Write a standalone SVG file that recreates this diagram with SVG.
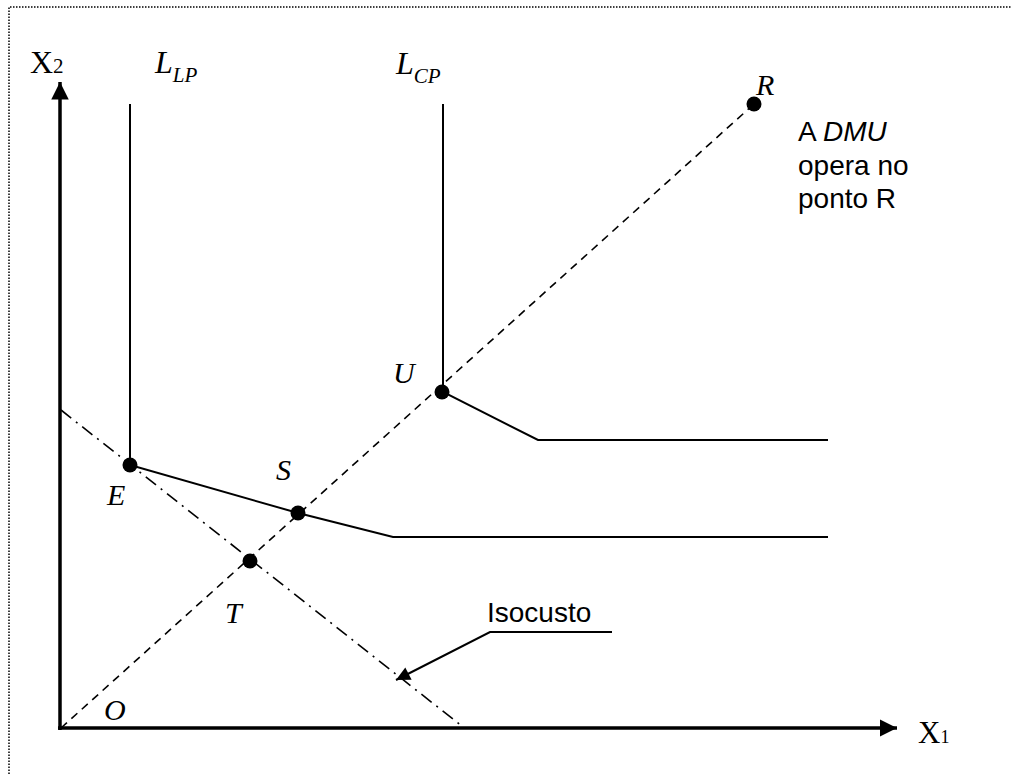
<svg xmlns="http://www.w3.org/2000/svg" width="1011" height="774" viewBox="0 0 1011 774">
<style>
.t{font-family:"Liberation Serif","Times New Roman",serif;fill:#000}
.i{font-style:italic}
.s{font-family:"Liberation Sans",Arial,sans-serif;fill:#000;font-size:28px}
.ln{stroke:#000;stroke-width:2;fill:none}
.ax{stroke:#000;stroke-width:3.5;fill:none}
.dash{stroke:#000;stroke-width:1.6;fill:none;stroke-dasharray:8 6}
.dd{stroke:#000;stroke-width:1.6;fill:none;stroke-dasharray:13 6 2 6}
.dot{fill:#000}
</style>
<defs>
<marker id="ah" viewBox="0 0 10 10" refX="10" refY="5" markerWidth="5" markerHeight="5" markerUnits="strokeWidth" orient="auto"><path d="M0,0 L10,5 L0,10 z" fill="#000"/></marker>
<marker id="ah2" viewBox="0 0 10 10" refX="10" refY="5" markerWidth="8" markerHeight="7" markerUnits="strokeWidth" orient="auto"><path d="M0,0 L10,5 L0,10 z" fill="#000"/></marker>
</defs>
<rect width="1011" height="774" fill="#fff"/>
<g id="frame"><path d="M9,774 V7 H1011" fill="none" stroke="#000" stroke-width="1.5" stroke-dasharray="1.5 1.5"/></g>
<g id="connectors">
<line class="ax" x1="60" y1="730" x2="60" y2="82" marker-end="url(#ah)"/>
<line class="ax" x1="58" y1="728" x2="897" y2="728" marker-end="url(#ah)"/>
<line class="dash" x1="61" y1="728" x2="754" y2="104"/>
<line class="dd" x1="61" y1="410" x2="463" y2="727"/>
<polyline class="ln" points="130,104 130,465 298,513 393,537 828,537"/>
<polyline class="ln" points="443,104 443,392 538,440 828,440"/>
<polyline points="612,632 490,632 396,680" fill="none" stroke="#000" stroke-width="2" marker-end="url(#ah2)"/>
</g>
<g id="axis-labels">
<text class="t" x="30" y="73" font-size="32">X<tspan font-size="21">2</tspan></text>
<text class="t" x="918" y="743" font-size="31">X<tspan font-size="18">1</tspan></text>
</g>
<g id="LLP"><text class="t i" x="155" y="73" font-size="32">L<tspan font-size="21" dy="9">LP</tspan></text></g>
<g id="LCP"><text class="t i" x="396" y="74" font-size="32">L<tspan font-size="21" dy="9">CP</tspan></text></g>
<g id="R"><circle class="dot" cx="754" cy="104" r="7.5"/><text class="t i" x="756" y="95" font-size="30">R</text></g>
<g id="U"><circle class="dot" cx="442" cy="392" r="7.5"/><text class="t i" x="393" y="383" font-size="30">U</text></g>
<g id="E"><circle class="dot" cx="130" cy="465" r="7.5"/><text class="t i" x="107" y="505" font-size="30">E</text></g>
<g id="S"><circle class="dot" cx="298" cy="513" r="7.5"/><text class="t i" x="276" y="480" font-size="30">S</text></g>
<g id="T"><circle class="dot" cx="250" cy="561" r="7.5"/><text class="t i" x="225" y="623" font-size="30">T</text></g>
<g id="O"><text class="t i" x="104" y="720" font-size="30">O</text></g>
<g id="note"><text class="s" x="798" y="141">A <tspan font-style="italic">DMU</tspan></text><text class="s" x="798" y="175">opera no</text><text class="s" x="798" y="208">ponto R</text></g>
<g id="isocusto"><text class="s" x="487" y="622">Isocusto</text></g>
</svg>
